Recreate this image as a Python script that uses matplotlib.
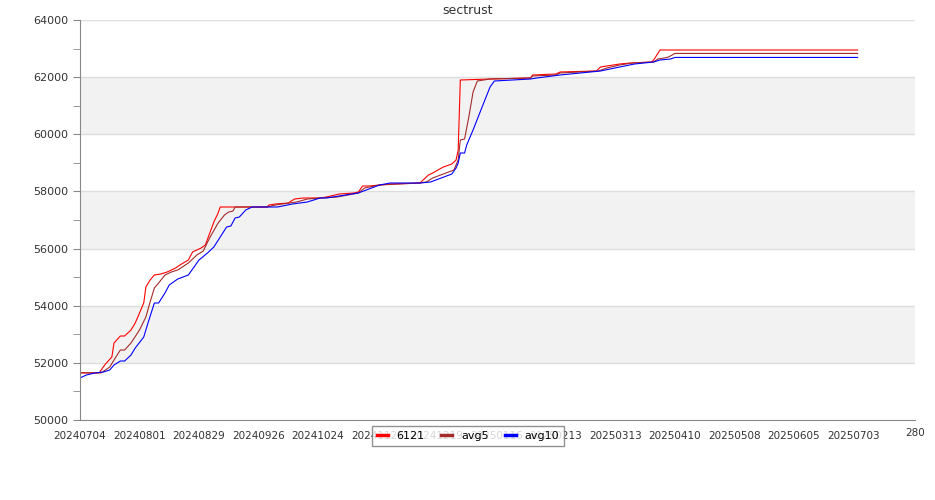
import numpy as np
import matplotlib
matplotlib.use('Agg')
import matplotlib.pyplot as plt

# days since 20240704
red_days = [0, 9, 12, 15, 16, 19, 21, 24, 26, 30, 31, 33, 35, 38, 41, 45, 47, 51, 53, 57, 59, 63, 65, 66,
            88, 89, 92, 98, 101, 105, 113, 116, 120, 122, 129, 131, 133, 136, 146, 160, 162, 164, 166,
            171, 175, 176, 177, 178, 179, 193, 212, 213, 224, 226, 243, 245, 248, 254, 259, 269, 270, 273, 366]
red_vals = [51650, 51650, 51960, 52205, 52695, 52940, 52940, 53150, 53395, 54095, 54655, 54900, 55075, 55110,
            55180, 55320, 55425, 55600, 55880, 56020, 56125, 56930, 57245, 57455,
            57455, 57525, 57560, 57595, 57735, 57770, 57770, 57805, 57875, 57910, 57945, 57980, 58190, 58190,
            58260, 58295, 58435, 58575, 58645, 58855, 58960, 59030, 59100, 59450, 61900, 61935, 61970, 62075,
            62110, 62180, 62215, 62355, 62390, 62460, 62495, 62530, 62600, 62950, 62950]

avg5_days = [0, 10, 14, 16, 19, 21, 24, 28, 31, 33, 35, 37, 40, 43, 46, 51, 55, 58, 61, 65, 68, 70, 72, 73,
             88, 92, 102, 107, 113, 121, 131, 134, 141, 160, 163, 166, 171, 176, 177, 178, 179, 181, 183,
             185, 187, 193, 212, 213, 224, 226, 244, 248, 254, 260, 270, 272, 275, 277, 280, 366]
avg5_vals = [51650, 51650, 51855, 52100, 52450, 52450, 52695, 53150, 53605, 54130, 54620, 54795, 55075, 55180,
             55250, 55495, 55775, 55915, 56370, 56895, 57175, 57280, 57315, 57455,
             57455, 57525, 57630, 57735, 57770, 57805, 57945, 58120, 58225, 58295, 58330, 58470, 58610, 58750,
             58925, 59100, 59800, 59835, 60605, 61480, 61865, 61935, 61970, 62040, 62075, 62145, 62215, 62320,
             62425, 62495, 62530, 62635, 62670, 62705, 62830, 62830]

avg10_days = [0, 3, 7, 11, 14, 16, 19, 21, 24, 26, 30, 32, 35, 37, 40, 42, 46, 51, 56, 60, 63, 66, 69, 71, 73,
              75, 78, 81, 93, 100, 107, 113, 116, 131, 141, 146, 160, 165, 170, 175, 177, 178, 179, 181, 182,
              185, 190, 193, 195, 212, 215, 226, 245, 254, 261, 270, 273, 278, 280, 366]
avg10_vals = [51470, 51575, 51645, 51680, 51750, 51925, 52065, 52065, 52275, 52520, 52905, 53395, 54095, 54095,
              54445, 54725, 54935, 55075, 55600, 55845, 56055, 56405, 56755, 56790, 57070,
              57105, 57350, 57455, 57455, 57560, 57630, 57770, 57770, 57945, 58225, 58295, 58295, 58330, 58470,
              58610, 58820, 58995, 59345, 59345, 59625, 60150, 61095, 61655, 61865, 61935, 61970, 62075,
              62215, 62355, 62460, 62530, 62600, 62635, 62690, 62690]

tick_days = [0, 28, 56, 84, 112, 140, 168, 196, 224, 252, 280, 308, 336, 364]
tick_labels = ['20240704', '20240801', '20240829', '20240926', '20241024', '20241121', '20241219',
               '20250116', '20250213', '20250313', '20250410', '20250508', '20250605', '20250703']

fig = plt.figure(figsize=(9.35, 5.0), dpi=100)
ax = fig.add_axes([80/935, 80/500, 835/935, 400/500])

# alternating bands + grid
for lo in range(52000, 64000, 4000):
    ax.axhspan(lo, lo + 2000, color='#f2f2f2', zorder=0, lw=0)
for y in range(52000, 64001, 2000):
    ax.axhline(y, color='#dddddd', lw=1, zorder=0.5)

ax.plot(red_days, red_vals, color='#ff0000', lw=0.8, label='6121')
ax.plot(avg5_days, avg5_vals, color='#a52a2a', lw=0.8, label='avg5')
ax.plot(avg10_days, avg10_vals, color='#0000ff', lw=0.8, label='avg10')

ax.set_xlim(0, 393)
ax.set_ylim(50000, 64000)
ax.set_yticks(range(50000, 64001, 2000))
ax.set_yticks(range(51000, 64000, 2000), minor=True)
ax.set_xticks(tick_days)
ax.set_xticklabels(tick_labels)
ax.tick_params(axis='x', length=0, pad=8, labelsize=7.5, colors='#333333')
ax.tick_params(axis='y', which='both', length=5, color='#888888', labelsize=8, labelcolor='#333333')
for s in ['top', 'right']:
    ax.spines[s].set_visible(False)
for s in ['left', 'bottom']:
    ax.spines[s].set_color('#888888')
fig.text(905/935, 1 - 433/500, '280', fontsize=7.5, color='#333333', ha='left', va='center')

fig.suptitle('sectrust', x=0.5, y=1 - 10/500, va='center', fontsize=9, color='#333333')

leg = fig.legend(loc='center', bbox_to_anchor=(468/935, 1 - 436/500), ncol=3, fontsize=8,
                 frameon=True, fancybox=False, handlelength=1.0, columnspacing=1.45,
                 borderpad=0.45, handletextpad=0.8, borderaxespad=0)
leg.get_frame().set_edgecolor('#777777')
leg.get_frame().set_linewidth(1)
for h in leg.legend_handles:
    h.set_linewidth(2.5)

plt.savefig('out.png', dpi=100)
